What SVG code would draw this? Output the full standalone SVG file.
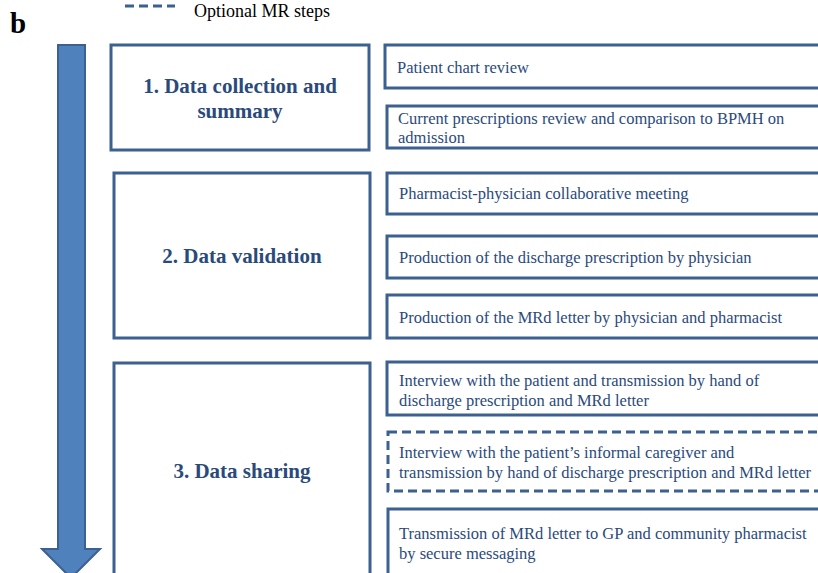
<svg xmlns="http://www.w3.org/2000/svg" width="818" height="573" viewBox="0 0 818 573">
<style>
.box{fill:#fff;stroke:#3c6090;stroke-width:3}
.dash{fill:#fff;stroke:#3c6090;stroke-width:3;stroke-dasharray:9 5}
.t{font-family:"Liberation Serif",serif;font-size:16.5px;fill:#2a4a7c}
.h{font-family:"Liberation Serif",serif;font-size:21px;font-weight:bold;fill:#2a4a7c;text-anchor:middle}
.k{font-family:"Liberation Serif",serif;fill:#000}
</style>
<rect width="818" height="573" fill="#fff"/>
<g id="legend">
<line x1="125" y1="6" x2="175" y2="6" stroke="#3c6090" stroke-width="3" stroke-dasharray="9 5"/>
<text class="k" x="194" y="17" font-size="18px">Optional MR steps</text>
</g>
<text class="k" x="10" y="33" font-size="29px" font-weight="bold">b</text>
<g id="arrow">
<path d="M58,45 H85 V549 H100 L71,578 L42,549 H58 Z" fill="#4f81bd" stroke="#3c6090" stroke-width="2"/>
</g>
<g id="step1">
<rect class="box" x="111" y="45" width="258" height="105"/>
<text class="h" x="240" y="93">1. Data collection and</text>
<text class="h" x="240" y="118">summary</text>
</g>
<g id="step2">
<rect class="box" x="114" y="173" width="256" height="165"/>
<text class="h" x="242" y="263">2. Data validation</text>
</g>
<g id="step3">
<rect class="box" x="114" y="363" width="256" height="220"/>
<text class="h" x="242" y="478">3. Data sharing</text>
</g>
<g id="s1a">
<rect class="box" x="385" y="45" width="440" height="43"/>
<text class="t" x="397" y="73">Patient chart review</text>
</g>
<g id="s1b">
<rect class="box" x="387" y="106" width="440" height="42"/>
<text class="t" x="398" y="124">Current prescriptions review and comparison to BPMH on</text>
<text class="t" x="398" y="143">admission</text>
</g>
<g id="s2a">
<rect class="box" x="387" y="173" width="440" height="41"/>
<text class="t" x="399" y="199">Pharmacist-physician collaborative meeting</text>
</g>
<g id="s2b">
<rect class="box" x="387" y="236" width="440" height="42"/>
<text class="t" x="399" y="263">Production of the discharge prescription by physician</text>
</g>
<g id="s2c">
<rect class="box" x="387" y="295" width="440" height="43"/>
<text class="t" x="399" y="323">Production of the MRd letter by physician and pharmacist</text>
</g>
<g id="s3a">
<rect class="box" x="387" y="362" width="440" height="53"/>
<text class="t" x="399" y="386">Interview with the patient and transmission by hand of</text>
<text class="t" x="399" y="406">discharge prescription and MRd letter</text>
</g>
<g id="s3b">
<rect class="dash" x="388" y="432" width="440" height="59"/>
<text class="t" x="399" y="458">Interview with the patient’s informal caregiver and</text>
<text class="t" x="399" y="478">transmission by hand of discharge prescription and MRd letter</text>
</g>
<g id="s3c">
<rect class="box" x="388" y="509" width="440" height="80"/>
<text class="t" x="399" y="539">Transmission of MRd letter to GP and community pharmacist</text>
<text class="t" x="399" y="559">by secure messaging</text>
</g>
<g id="connectors"></g>
</svg>
